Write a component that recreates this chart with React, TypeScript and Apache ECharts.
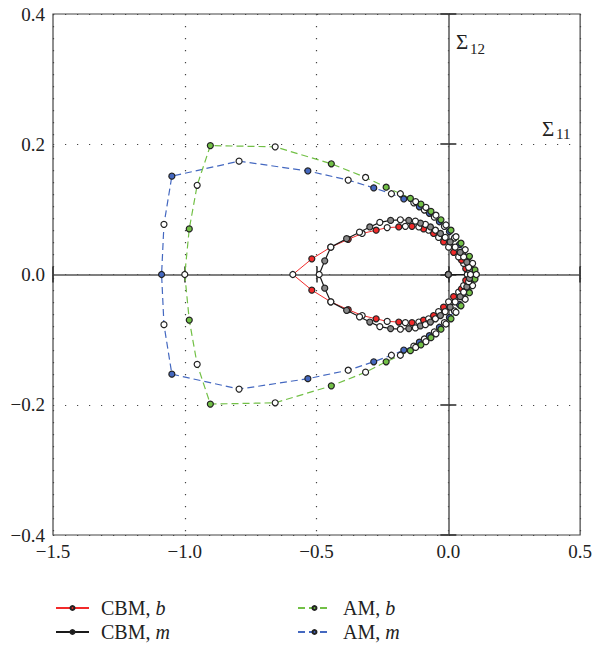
import React, { useEffect, useRef } from 'react';
import * as echarts from 'echarts';

const xTicks = [-1.5, -1.0, -0.5, 0, 0.5];
const xTickLabels = ['−1.5', '−1.0', '−0.5', '0.0', '0.5'];
const yTicks = [-0.4, -0.2, 0, 0.2, 0.4];
const yTickLabels = ['−0.4', '−0.2', '0.0', '0.2', '0.4'];

const seriesNames = ['CBM, b', 'CBM, m', 'AM, b', 'AM, m'];

const origin: number[][] = [[0, 0]];

const cbmBUpper = [
  [0.072, 0.0], [0.066, 0.009], [0.058, 0.017], [0.05, 0.022], [0.039, 0.027], [0.02, 0.034],
  [0.001, 0.042], [-0.018, 0.05], [-0.037, 0.057], [-0.056, 0.063], [-0.075, 0.068], [-0.094, 0.07],
  [-0.112, 0.073], [-0.138, 0.074], [-0.163, 0.074], [-0.188, 0.073], [-0.232, 0.072], [-0.274, 0.068],
  [-0.327, 0.063], [-0.38, 0.054], [-0.446, 0.042], [-0.518, 0.024], [-0.59, 0.0],
];
const cbmBLower = [
  [-0.518, -0.024], [-0.446, -0.042], [-0.38, -0.054], [-0.327, -0.063], [-0.274, -0.068], [-0.232, -0.072],
  [-0.188, -0.073], [-0.163, -0.074], [-0.138, -0.074], [-0.112, -0.073], [-0.094, -0.07], [-0.075, -0.068],
  [-0.056, -0.063], [-0.037, -0.057], [-0.018, -0.05], [0.001, -0.042], [0.02, -0.034], [0.039, -0.027],
  [0.05, -0.022], [0.058, -0.017], [0.066, -0.009], [0.072, 0.0],
];

const cbmMUpper = [
  [0.084, 0.0], [0.08, 0.006], [0.077, 0.011], [0.07, 0.019], [0.058, 0.027], [0.045, 0.034],
  [0.026, 0.042], [0.007, 0.05], [-0.012, 0.057], [-0.03, 0.063], [-0.049, 0.068], [-0.068, 0.073],
  [-0.087, 0.077], [-0.106, 0.079], [-0.125, 0.082], [-0.15, 0.083], [-0.182, 0.084], [-0.219, 0.083],
  [-0.26, 0.08], [-0.298, 0.073], [-0.337, 0.065], [-0.386, 0.055], [-0.446, 0.042], [-0.469, 0.021],
  [-0.49, 0.0],
];
const cbmMLower = [
  [-0.469, -0.021], [-0.446, -0.042], [-0.386, -0.055], [-0.337, -0.065], [-0.298, -0.073], [-0.26, -0.08],
  [-0.219, -0.083], [-0.182, -0.084], [-0.15, -0.083], [-0.125, -0.082], [-0.106, -0.079], [-0.087, -0.077],
  [-0.068, -0.073], [-0.049, -0.068], [-0.03, -0.063], [-0.012, -0.057], [0.007, -0.05], [0.026, -0.042],
  [0.045, -0.034], [0.058, -0.027], [0.07, -0.019], [0.077, -0.011], [0.08, -0.006], [0.084, 0.0],
];

const amBUpper = [
  [0.106, 0.0], [0.101, 0.007], [0.092, 0.017], [0.08, 0.028], [0.064, 0.038], [0.048, 0.048],
  [0.029, 0.058], [0.01, 0.068], [-0.009, 0.076], [-0.028, 0.084], [-0.047, 0.091], [-0.066, 0.097],
  [-0.085, 0.103], [-0.104, 0.108], [-0.124, 0.112], [-0.144, 0.117], [-0.182, 0.124], [-0.236, 0.134],
  [-0.314, 0.149], [-0.444, 0.17], [-0.657, 0.196], [-0.903, 0.198], [-0.953, 0.137], [-0.983, 0.07],
  [-1.0, 0.0],
];
const amBLower = [
  [-0.983, -0.07], [-0.953, -0.138], [-0.903, -0.199], [-0.657, -0.197], [-0.444, -0.171], [-0.314, -0.15],
  [-0.236, -0.134], [-0.182, -0.124], [-0.144, -0.117], [-0.124, -0.112], [-0.104, -0.108], [-0.085, -0.103],
  [-0.066, -0.097], [-0.047, -0.091], [-0.028, -0.084], [-0.009, -0.076], [0.01, -0.068], [0.029, -0.058],
  [0.048, -0.048], [0.064, -0.038], [0.08, -0.028], [0.092, -0.017], [0.101, -0.007], [0.106, 0.0],
];

const amMUpper = [
  [0.102, 0.0], [0.097, 0.006], [0.087, 0.016], [0.075, 0.026], [0.059, 0.036], [0.042, 0.046],
  [0.023, 0.056], [0.004, 0.066], [-0.015, 0.074], [-0.034, 0.081], [-0.053, 0.088], [-0.072, 0.094],
  [-0.091, 0.099], [-0.11, 0.104], [-0.131, 0.11], [-0.169, 0.116], [-0.216, 0.124], [-0.283, 0.133],
  [-0.38, 0.145], [-0.533, 0.159], [-0.794, 0.174], [-1.049, 0.151], [-1.079, 0.077], [-1.088, 0.0],
];
const amMLower = [
  [-1.079, -0.077], [-1.049, -0.153], [-0.794, -0.176], [-0.533, -0.16], [-0.38, -0.147], [-0.283, -0.134],
  [-0.216, -0.124], [-0.169, -0.116], [-0.131, -0.11], [-0.11, -0.104], [-0.091, -0.099], [-0.072, -0.094],
  [-0.053, -0.088], [-0.034, -0.081], [-0.015, -0.074], [0.004, -0.066], [0.023, -0.056], [0.042, -0.046],
  [0.059, -0.036], [0.075, -0.026], [0.087, -0.016], [0.097, -0.006], [0.102, 0.0],
];

const FONT = '"Liberation Serif", "Times New Roman", serif';
const RED = '#f22a2a';
const BLACK = '#1a1a1a';
const GREEN = '#72c046';
const BLUE = '#4468c0';

function tickLabel(ticks: number[], labels: string[]) {
  return (v: number) => {
    const i = ticks.findIndex((t) => Math.abs(t - v) < 1e-6);
    return i >= 0 ? labels[i] : '';
  };
}

function alt(c: string) {
  return (p: any) => (p.dataIndex % 2 === 0 ? c : '#ffffff');
}

function makeSeries(name: string, data: number[][], color: string, dashed: boolean, width: number, fill: string) {
  return {
    name,
    type: 'line',
    data,
    xAxisIndex: 0,
    yAxisIndex: 0,
    symbol: 'circle',
    symbolSize: 6,
    showSymbol: true,
    color,
    lineStyle: { color, width, type: dashed ? [7, 4] : 'solid' },
    itemStyle: { color: alt(fill), borderColor: '#222', borderWidth: 1.2 },
    emphasis: { disabled: true },
  };
}

function legendFormatter(name: string) {
  const parts = name.split(', ');
  return `{n|${parts[0]}, }{i|${parts[1]}}`;
}

const legendText = {
  fontFamily: FONT,
  fontSize: 20,
  color: '#222',
  rich: {
    n: { fontFamily: FONT, fontSize: 20, color: '#222', padding: [0, 0, 0, 7] },
    i: { fontFamily: FONT, fontSize: 20, color: '#222', fontStyle: 'italic' },
  },
};

function makeLegend(name: string, left: number, top: number) {
  return {
    data: [name],
    orient: 'horizontal',
    left,
    top,
    padding: 0,
    itemWidth: 33,
    itemHeight: 5,
    formatter: legendFormatter,
    textStyle: legendText,
    selectedMode: false,
  };
}

export default function App() {
  const ref = useRef<HTMLDivElement>(null);
  useEffect(() => {
    if (!ref.current) return;
    const chart = echarts.init(ref.current, undefined, { renderer: 'svg' });
    const baseX = { type: 'value', min: -1.5, max: 0.5, interval: 0.5 };
    const baseY = { type: 'value', min: -0.4, max: 0.4, interval: 0.2 };
    const dotted = { show: true, lineStyle: { color: '#444', width: 1.2, type: [1.2, 10.8] } };
    const tickLine = { color: '#333', width: 1.6 };
    chart.setOption({
      animation: false,
      backgroundColor: '#ffffff',
      grid: { left: 53, right: 13, top: 14, bottom: 113, show: true, borderColor: '#444', borderWidth: 1.2, backgroundColor: 'transparent' },
      xAxis: [
        {
          ...baseX,
          position: 'bottom',
          axisLine: { show: false, onZero: false },
          axisTick: { show: false },
          axisLabel: { formatter: tickLabel(xTicks, xTickLabels), fontFamily: FONT, fontSize: 19, color: '#222', margin: 7 },
          splitLine: dotted,
        },
        {
          ...baseX,
          axisLine: { show: true, onZero: true, onZeroAxisIndex: 0, lineStyle: { color: '#555', width: 1.5 } },
          axisTick: { show: true, inside: true, length: 8, lineStyle: tickLine },
          axisLabel: { show: false },
          splitLine: { show: false },
        },
        {
          ...baseX,
          axisLine: { show: false, onZero: true, onZeroAxisIndex: 0 },
          axisTick: { show: true, inside: false, length: 8, lineStyle: tickLine },
          axisLabel: { show: false },
          splitLine: { show: false },
        },
      ],
      yAxis: [
        {
          ...baseY,
          position: 'left',
          axisLine: { show: false, onZero: false },
          axisTick: { show: false },
          axisLabel: { formatter: tickLabel(yTicks, yTickLabels), fontFamily: FONT, fontSize: 19, color: '#222', margin: 8 },
          splitLine: dotted,
        },
        {
          ...baseY,
          axisLine: { show: true, onZero: true, onZeroAxisIndex: 0, lineStyle: { color: '#555', width: 1.5 } },
          axisTick: { show: true, inside: true, length: 8, lineStyle: tickLine },
          axisLabel: { show: false },
          splitLine: { show: false },
        },
        {
          ...baseY,
          axisLine: { show: false, onZero: true, onZeroAxisIndex: 0 },
          axisTick: { show: true, inside: false, length: 8, lineStyle: tickLine },
          axisLabel: { show: false },
          splitLine: { show: false },
        },
      ],
      legend: [
        makeLegend(seriesNames[0], 55, 598),
        makeLegend(seriesNames[1], 55, 622),
        makeLegend(seriesNames[2], 297, 598),
        makeLegend(seriesNames[3], 297, 622),
      ],
      graphic: [
        { type: 'text', x: 456, y: 42, style: { text: 'Σ', font: `21px ${FONT}`, fill: '#222', verticalAlign: 'middle' } },
        { type: 'text', x: 470, y: 49, style: { text: '12', font: `15px ${FONT}`, fill: '#222', verticalAlign: 'middle' } },
        { type: 'text', x: 542, y: 129, style: { text: 'Σ', font: `21px ${FONT}`, fill: '#222', verticalAlign: 'middle' } },
        { type: 'text', x: 556, y: 134, style: { text: '11', font: `15px ${FONT}`, fill: '#222', verticalAlign: 'middle' } },
      ],
      series: [
        makeSeries(seriesNames[3], [...origin, ...amMUpper, ...amMLower], BLUE, true, 1.2, BLUE),
        makeSeries(seriesNames[2], [...origin, ...amBUpper, ...amBLower], GREEN, true, 1.2, GREEN),
        makeSeries(seriesNames[0], [...origin, ...cbmBUpper, ...cbmBLower], RED, false, 1, RED),
        makeSeries(seriesNames[1], [...origin, ...cbmMUpper, ...cbmMLower], BLACK, false, 1.2, '#888888'),
      ],
    });
    return () => chart.dispose();
  }, []);
  return <div ref={ref} style={{ position: 'fixed', left: 0, top: 0, width: 595, height: 648 }} />;
}
